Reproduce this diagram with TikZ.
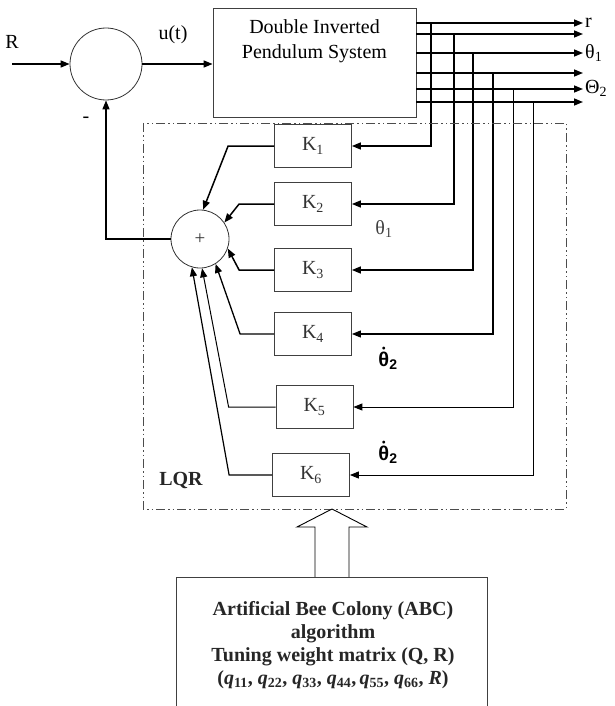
\documentclass[tikz,border=0pt]{standalone}
\usepackage{fontspec}
\usepackage{amsmath}
\setmainfont{Liberation Serif}
\setsansfont{Liberation Sans}
\usetikzlibrary{arrows.meta}

\begin{document}
\begin{tikzpicture}[x=1pt,y=-1pt,
    >={Triangle[length=9pt,width=7pt]},
    every node/.style={inner sep=1pt,font=\fontsize{20}{24}\selectfont},
    gain/.style={draw=black!75,line width=0.8pt,minimum width=77pt,minimum height=43pt,inner sep=0pt,text=black!80},
    sig/.style={line width=1.5pt}]
    \useasboundingbox (0,0) rectangle (615,706);

    % Input, first junction and plant
    \node[draw=black!80,line width=0.8pt,circle,minimum size=72pt,inner sep=0pt] (sum1) at (106,64) {};
    \node[draw=black!75,line width=0.8pt,minimum width=203pt,minimum height=109pt] (sys) at (314.5,62.5) {};
    \node[anchor=north,inner sep=0pt,align=center,font=\fontsize{20}{25}\selectfont] (systxt) at (314.5,19.5) {Double Inverted\\Pendulum System};
    \coordinate (in) at (12,64);
    \node (Rlbl) at (12,42) {R};
    \draw[->,sig] (in) -- (sum1.west);
    \draw[->,sig] (sum1.east) -- (sum1.east -| sys.west);
    \node (ulbl) at (173,35) {u(t)};

    % Plant outputs
    \foreach \y [count=\i] in {23,34,53,73,89,102}
        \coordinate (o\i) at (583,\y);
    \foreach \i in {1,...,6}
        \draw[->,sig] (sys.east |- o\i) -- (o\i);
    \node[anchor=west] (rout) at (584,23) {r};
    \node[anchor=west] (thout) at (584,53) {θ\textsubscript{1}};
    \node[anchor=west] (Thout) at (584,88) {Θ\textsubscript{2}};

    % LQR gains
    \foreach \x/\y [count=\i] in {313/146,313/204,313/270,313/334,314.5/407,311/475}
        \node[gain] (K\i) at (\x,\y) {K\textsubscript{\i}};
    \foreach \x/\w [count=\i] in {431/1.5pt,454/1.5pt,473/1.5pt,493/1.1pt,513/1pt,533/1pt}
        \draw[->,line width=\w] (o\i -| \x,0) |- (K\i.east);

    % Second junction and feedback
    \node[draw=black!80,line width=0.8pt,circle,minimum size=58pt,inner sep=0pt,font=\fontsize{19}{19}\selectfont,text=black!80] (sum2) at (200,239) {+};
    \foreach \i/\d/\a/\w in {1/46/84/1.5pt,2/35/34/1.5pt,3/35/341/1.5pt,4/34/302/1.3pt,5/47/274/1pt,6/43/254/1.2pt}
        \draw[->,line width=\w] (K\i.west) -- ++(-\d,0) -- (sum2.\a);
    \draw[->,sig] (sum2.west) -| (sum1.south);
    \node (minus) at (86,120) {-};

    % Labels inside the controller
    \node[text=black!75] (th1) at (384,229) {θ\textsubscript{1}};
    \node[font=\fontsize{20}{24}\selectfont\sffamily\bfseries\boldmath] (dth1) at (388,358) {$\dot{\text{θ}}$\textsubscript{2}};
    \node[font=\fontsize{20}{24}\selectfont\sffamily\bfseries\boldmath] (dth2) at (388,452) {$\dot{\text{θ}}$\textsubscript{2}};
    \node[font=\fontsize{20}{24}\selectfont\bfseries,text=black!85] (lqr) at (181,480) {LQR};
    \draw[black!70,line width=0.9pt,dash pattern=on 9pt off 3pt on 1.5pt off 3pt on 1.5pt off 3pt] (143,123) rectangle (566,509);

    % ABC tuning block
    \draw[line width=0.9pt,fill=white] (315,577) -- (315,527) -- (297,527) -- (332,509) -- (367,527) -- (349,527) -- (349,577);
    \draw[black!75,line width=0.9pt] (176,706) |- (487,577) -- (487,706);
    \node[anchor=north,align=center,inner sep=0pt,font=\fontsize{20}{23}\selectfont\bfseries,text=black!85] (abc) at (333,601)
        {Artificial Bee Colony (ABC)\\algorithm\\Tuning weight matrix (Q, R)\\(\textit{q}\textsubscript{11}, \textit{q}\textsubscript{22}, \textit{q}\textsubscript{33}, \textit{q}\textsubscript{44},\,\textit{q}\textsubscript{55}, \textit{q}\textsubscript{66}, \textit{R})};
\end{tikzpicture}
\end{document}
